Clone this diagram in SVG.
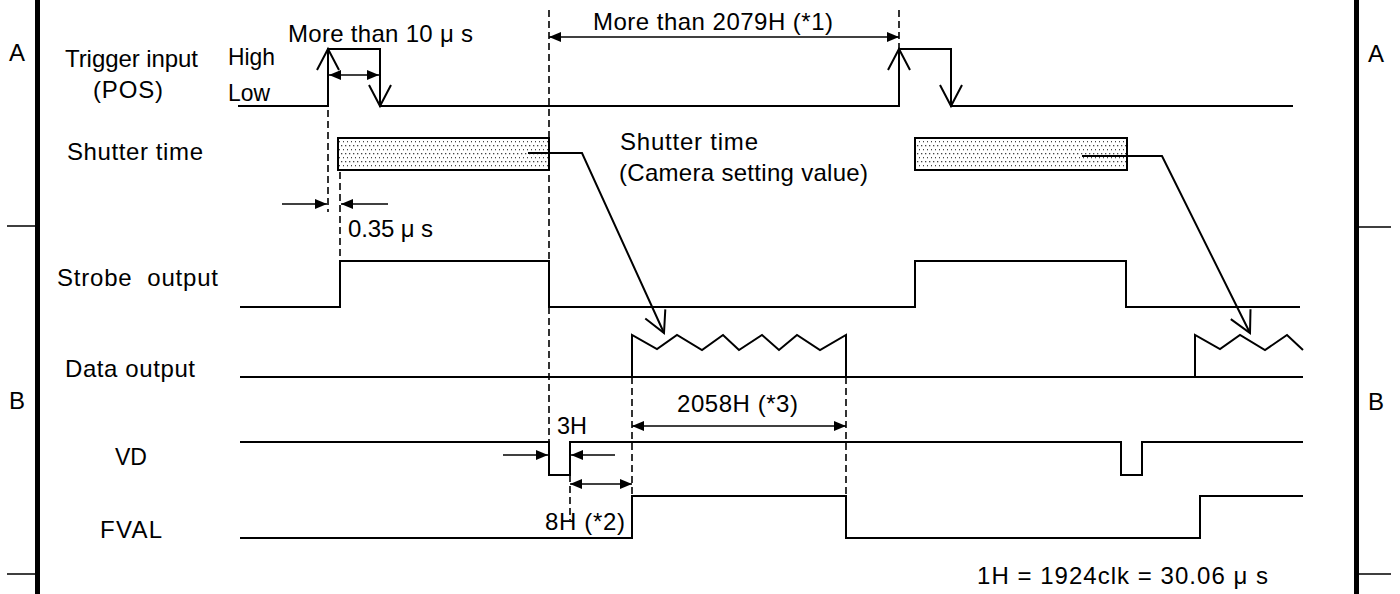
<svg xmlns="http://www.w3.org/2000/svg" width="1400" height="594" viewBox="0 0 1400 594">
<style>
.w{fill:none;stroke:#000;stroke-width:2}
.d{fill:none;stroke:#000;stroke-width:1.6;stroke-dasharray:7 4}
.da{fill:none;stroke:#000;stroke-width:1.6;marker-start:url(#fa);marker-end:url(#fa)}
.sa{fill:none;stroke:#000;stroke-width:1.6;marker-end:url(#fa)}
.oa{fill:none;stroke:#000;stroke-width:2;marker-end:url(#oa)}
.bd{fill:none;stroke:#000;stroke-width:5}
.tk{fill:none;stroke:#000;stroke-width:1.5}
.box{fill:url(#dots);stroke:#000;stroke-width:2}
text{font-family:"Liberation Sans",Arial,sans-serif;font-size:24px;fill:#000;white-space:pre}
</style>
<defs>
<pattern id="dots" width="4" height="8" patternUnits="userSpaceOnUse">
<rect width="4" height="8" fill="#fff"/>
<rect x="1" y="1" width="1.3" height="1.3" fill="#444"/>
<rect x="3" y="5" width="1.3" height="1.3" fill="#444"/>
</pattern>
<marker id="fa" markerUnits="userSpaceOnUse" markerWidth="12" markerHeight="10" refX="12" refY="5" orient="auto-start-reverse" viewBox="0 0 12 10"><path d="M0,0 L12,5 L0,10 z" fill="#000"/></marker>
<marker id="oa" markerUnits="userSpaceOnUse" markerWidth="24" markerHeight="26" refX="22" refY="12" orient="auto" viewBox="0 0 24 26" overflow="visible"><path d="M1,1 L22,12 L1,23" fill="none" stroke="#000" stroke-width="2"/></marker>
</defs>
<rect width="1400" height="594" fill="#fff"/>

<g id="frame">
<path class="bd" d="M37.5,0 V594 M1356.5,0 V594"/>
<path class="tk" d="M7,226 H37 M7,574 H37 M1359,227 H1391 M1359,574 H1391"/>
<text x="9" y="61">A</text>
<text x="1368" y="62">A</text>
<text x="9" y="409">B</text>
<text x="1368" y="410">B</text>
</g>

<g id="trigger">
<text x="65" y="67" textLength="133" lengthAdjust="spacing">Trigger input</text>
<text x="93" y="98" textLength="70" lengthAdjust="spacing">(POS)</text>
<text x="228" y="65" textLength="47" lengthAdjust="spacingAndGlyphs">High</text>
<text x="228" y="101" textLength="42" lengthAdjust="spacingAndGlyphs">Low</text>
<path class="w" d="M238,106 H328 V49 H380 V106 H899 V49 H951 V106 H1293"/>
<path class="oa" d="M328,90 V49"/>
<path class="oa" d="M380,70 V106"/>
<path class="oa" d="M899,90 V49"/>
<path class="oa" d="M951,70 V106"/>
</g>

<g id="shutter">
<text x="67" y="160" textLength="136" lengthAdjust="spacing">Shutter time</text>
<rect class="box" x="338" y="138" width="211" height="32"/>
<rect class="box" x="915" y="138" width="212" height="32"/>
<text x="620" y="150" textLength="138" lengthAdjust="spacing">Shutter time</text>
<text x="619" y="181" textLength="249" lengthAdjust="spacing">(Camera setting value)</text>
</g>

<g id="strobe">
<text x="57" y="286" textLength="161" lengthAdjust="spacing">Strobe  output</text>
<path class="w" d="M240,307 H340 V261 H549 V307 H915 V261 H1126 V307 H1300"/>
</g>

<g id="data">
<text x="65" y="377" textLength="130" lengthAdjust="spacing">Data output</text>
<path class="w" d="M240,377 H1303"/>
<path class="w" d="M632,377 V335 L657,349 L677,335 L702,350 L723,335 L739,350 L762,335 L779,350 L797,335 L820,350 L846,335 V377"/>
<path class="w" d="M1195,377 V335 L1220,349 L1240,335 L1265,350 L1287,335 L1303,350"/>
</g>

<g id="vd">
<text x="115" y="465" textLength="32" lengthAdjust="spacingAndGlyphs">VD</text>
<path class="w" d="M240,442 H549 V475 H570 V442 H1121 V475 H1142 V442 H1303"/>
</g>

<g id="fval">
<text x="100" y="538" textLength="62" lengthAdjust="spacing">FVAL</text>
<path class="w" d="M240,538 H632 V496 H846 V538 H1200 V496 H1303"/>
</g>

<g id="connectors">
<path class="d" d="M328,110 V212 M340,172 V261 M549,10 V442 M899,10 V49 M632,377 V496 M846,377 V496 M570,475 V520"/>
<path class="da" d="M329,75 H379"/>
<path class="da" d="M549,37 H899"/>
<path class="da" d="M632,426 H846"/>
<path class="da" d="M570,484 H632"/>
<path class="sa" d="M282,204 H327"/>
<path class="sa" d="M388,204 H341"/>
<path class="sa" d="M503,455 H548"/>
<path class="sa" d="M615,455 H571"/>
<path class="oa" d="M528,153 H582 L664,333"/>
<path class="oa" d="M1082,156 H1162 L1250,333"/>
</g>

<g id="labels">
<text x="288" y="42" textLength="185" lengthAdjust="spacing">More than 10 μ s</text>
<text x="593" y="30" textLength="240" lengthAdjust="spacing">More than 2079H (*1)</text>
<text x="348" y="237" textLength="85" lengthAdjust="spacing">0.35 μ s</text>
<text x="557" y="434" textLength="30" lengthAdjust="spacingAndGlyphs">3H</text>
<text x="677" y="412" textLength="121" lengthAdjust="spacing">2058H (*3)</text>
<text x="545" y="530" textLength="80" lengthAdjust="spacing">8H (*2)</text>
<text x="977" y="584" textLength="291" lengthAdjust="spacing">1H = 1924clk = 30.06 μ s</text>
</g>
</svg>
